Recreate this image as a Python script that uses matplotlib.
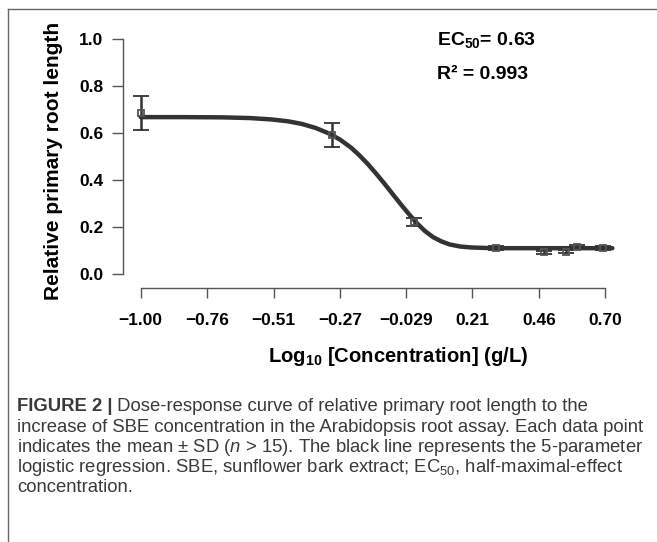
import matplotlib
matplotlib.use('Agg')
import matplotlib.pyplot as plt
from matplotlib.lines import Line2D

plt.rcParams['font.family'] = ['Liberation Sans', 'DejaVu Sans']
plt.rcParams['mathtext.fontset'] = 'custom'
plt.rcParams['mathtext.rm'] = 'Liberation Sans'
plt.rcParams['mathtext.it'] = 'Liberation Sans:italic'
plt.rcParams['mathtext.bf'] = 'Liberation Sans:bold'

# measured points: log10 concentration (g/L), mean relative root length, SD
log_conc = [-1.0, -0.301, 0.0, 0.301, 0.477, 0.556, 0.595, 0.690]
root_mean = [0.685, 0.594, 0.222, 0.112, 0.094, 0.096, 0.117, 0.112]
root_sd = [0.071, 0.051, 0.018, 0.008, 0.007, 0.007, 0.008, 0.008]

# 5-parameter logistic fit
fit_x = [-1.0, -0.85, -0.70, -0.60, -0.52, -0.46, -0.41, -0.36, -0.31, -0.27,
         -0.23, -0.20, -0.17, -0.14, -0.11, -0.08, -0.05, -0.02, 0.01, 0.04,
         0.07, 0.10, 0.13, 0.17, 0.21, 0.26, 0.32, 0.45, 0.60, 0.726]
fit_y = [0.668, 0.668, 0.667, 0.664, 0.658, 0.650, 0.639, 0.622, 0.598, 0.572,
         0.538, 0.506, 0.470, 0.430, 0.388, 0.344, 0.300, 0.258, 0.218, 0.184,
         0.158, 0.140, 0.127, 0.118, 0.114, 0.112, 0.111, 0.111, 0.111, 0.111]

xticks = [-1.00, -0.757, -0.514, -0.271, -0.029, 0.214, 0.457, 0.70]
xtick_labels = ['\u22121.00', '\u22120.76', '\u22120.51', '\u22120.27',
                '\u22120.029', '0.21', '0.46', '0.70']
yticks = [0.0, 0.2, 0.4, 0.6, 0.8, 1.0]

caption_head = 'FIGURE 2 |'
caption_lines = [
    ' Dose-response curve of relative primary root length to the',
    'increase of SBE concentration in the Arabidopsis root assay. Each data point',
    'indicates the mean \u00b1 SD ($n$ > 15). The black line represents the 5-parameter',
    'logistic regression. SBE, sunflower bark extract; EC$_{50}$, half-maximal-effect',
    'concentration.',
]

W, H = 657, 542
fig = plt.figure(figsize=(W / 100, H / 100), dpi=100)

# axes placed in pixel terms
x0, x1 = 132.5, 616.2
y_top, y_bot = 39.0, 274.3
ax = fig.add_axes([x0 / W, 1 - y_bot / H, (x1 - x0) / W, (y_bot - y_top) / H])
ax.set_xlim(-1.03, 0.74)
ax.set_ylim(0, 1.0)

dark = '#333333'
axis_col = '#555555'

ax.plot(fit_x, fit_y, color=dark, lw=3.2, solid_capstyle='round', zorder=3)
ax.errorbar(log_conc, root_mean, yerr=root_sd, fmt='s', ms=5, mfc='none',
            mec='#555555', mew=1.3, ecolor=dark, elinewidth=1.8, capsize=6,
            capthick=1.8, zorder=4)

for s in ['top', 'right']:
    ax.spines[s].set_visible(False)
ax.spines['left'].set_position(('outward', 7))
ax.spines['left'].set_bounds(0, 1.0)
ax.spines['bottom'].set_position(('outward', 10))
ax.spines['bottom'].set_bounds(-1.0, 0.70)
for s in ['left', 'bottom']:
    ax.spines[s].set_color(axis_col)
    ax.spines[s].set_linewidth(1.0)

ax.set_yticks(yticks)
ax.set_yticklabels([f'{v:.1f}' for v in yticks])
ax.set_xticks(xticks)
ax.set_xticklabels(xtick_labels)
ax.tick_params(axis='y', length=8, width=1.0, color=axis_col, pad=6,
               labelsize=12.5)
ax.tick_params(axis='x', length=7, width=1.0, color=axis_col, pad=11,
               labelsize=12.5)
for lab in ax.get_xticklabels() + ax.get_yticklabels():
    lab.set_fontweight('bold')

ax.text(437 / W, 1 - 45 / H, 'EC$_\\mathbf{50}$= 0.63', transform=fig.transFigure,
        fontsize=14, fontweight='bold', ha='left', va='baseline')
ax.text(437 / W, 1 - 79 / H, 'R\u00b2 = 0.993', transform=fig.transFigure,
        fontsize=14, fontweight='bold', ha='left', va='baseline')

fig.text(53.5 / W, 1 - 161 / H, 'Relative primary root length', rotation=90,
         fontsize=15, fontweight='bold', ha='center', va='center')
fig.text(398 / W, 1 - 362 / H, 'Log$_\\mathbf{10}$ [Concentration] (g/L)',
         fontsize=14.6, fontweight='bold', ha='center', va='baseline')

# caption
cap_col = '#3a3a3a'
cap_fs = 13.3
cap_x = 17 / W
baselines = [411, 431.5, 452, 472, 492]
head = fig.text(cap_x, 1 - baselines[0] / H, caption_head, fontsize=cap_fs,
                fontweight='bold', color=cap_col, va='baseline')
fig.canvas.draw()
bb = head.get_window_extent(renderer=fig.canvas.get_renderer())
fig.text(bb.x1 / W, 1 - baselines[0] / H, caption_lines[0], fontsize=cap_fs,
         color=cap_col, va='baseline')
for line, yb in zip(caption_lines[1:], baselines[1:]):
    fig.text(cap_x, 1 - yb / H, line, fontsize=cap_fs, color=cap_col,
             va='baseline')

# figure frame (top and left edge)
fig.add_artist(Line2D([8 / W, 1], [1 - 9 / H, 1 - 9 / H], color='#666666', lw=1))
fig.add_artist(Line2D([8 / W, 8 / W], [0, 1 - 9 / H], color='#666666', lw=1))

fig.savefig('out.png', dpi=100)
